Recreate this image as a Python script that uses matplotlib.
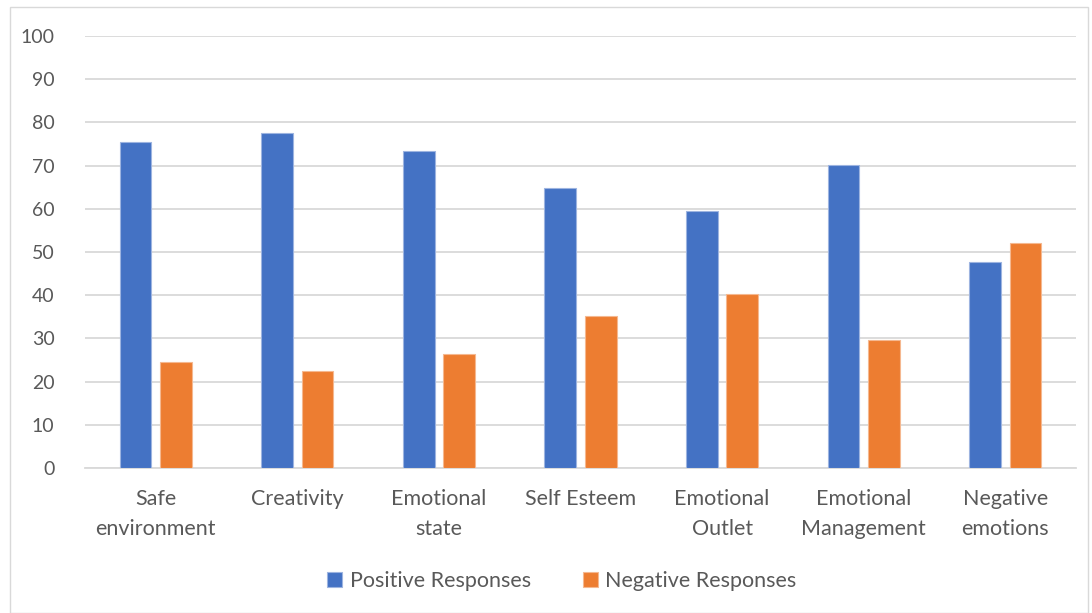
import matplotlib
matplotlib.use("Agg")
import matplotlib.pyplot as plt
from matplotlib.patches import Rectangle
import numpy as np

categories = ["Safe\nenvironment", "Creativity", "Emotional\nstate", "Self Esteem",
              "Emotional\nOutlet", "Emotional\nManagement", "Negative\nemotions"]
positive = [75.4, 77.6, 73.4, 64.7, 59.6, 70.1, 47.8]
negative = [24.5, 22.4, 26.5, 35.1, 40.3, 29.7, 52.0]
yticks = list(range(0, 101, 10))

plt.rcParams['font.family'] = ['Lato', 'DejaVu Sans']
txt = '#595959'
W, H = 1092, 613
fig = plt.figure(figsize=(W/100, H/100), dpi=100)
ax = fig.add_axes([85/W, (H-468)/H, (1076-85)/W, (468-36)/H])

x = np.arange(len(categories))
bw = 0.224
off = 0.143
ax.bar(x - off, positive, bw, color='#4472C4', edgecolor='#9DB4E0', linewidth=0.8,
       label='Positive Responses', zorder=3)
ax.bar(x + off, negative, bw, color='#ED7D31', edgecolor='#F5B890', linewidth=0.8,
       label='Negative Responses', zorder=3)

ax.set_xlim(-0.5, len(categories) - 0.5)
ax.set_ylim(0, 100)
ax.set_yticks(yticks)
ax.set_yticklabels([str(v) for v in yticks], fontsize=14, color=txt)
ax.set_xticks(x)
ax.set_xticklabels(categories, fontsize=15.5, color=txt, linespacing=1.65)
ax.tick_params(axis='both', length=0)
ax.tick_params(axis='y', pad=22)
ax.tick_params(axis='x', pad=15)
ax.yaxis.grid(True, color='#D9D9D9', linewidth=1.3, zorder=0)
for s in ['top', 'right', 'left']:
    ax.spines[s].set_visible(False)
ax.spines['bottom'].set_color('#D9D9D9')
ax.spines['bottom'].set_linewidth(1.3)

leg = fig.legend(loc='center', bbox_to_anchor=(562/W, 1 - 581/H), ncol=2, frameon=False,
                 fontsize=15.5, handlelength=0.7, handleheight=0.7, columnspacing=2.4,
                 handletextpad=0.35)
for t in leg.get_texts():
    t.set_color(txt)

fig.patches.append(Rectangle((10/W, 0), (1088-10)/W, (H-7)/H - 0, transform=fig.transFigure,
                             fill=False, edgecolor='#D9D9D9', linewidth=1.0))

fig.savefig('out.png', dpi=100)
